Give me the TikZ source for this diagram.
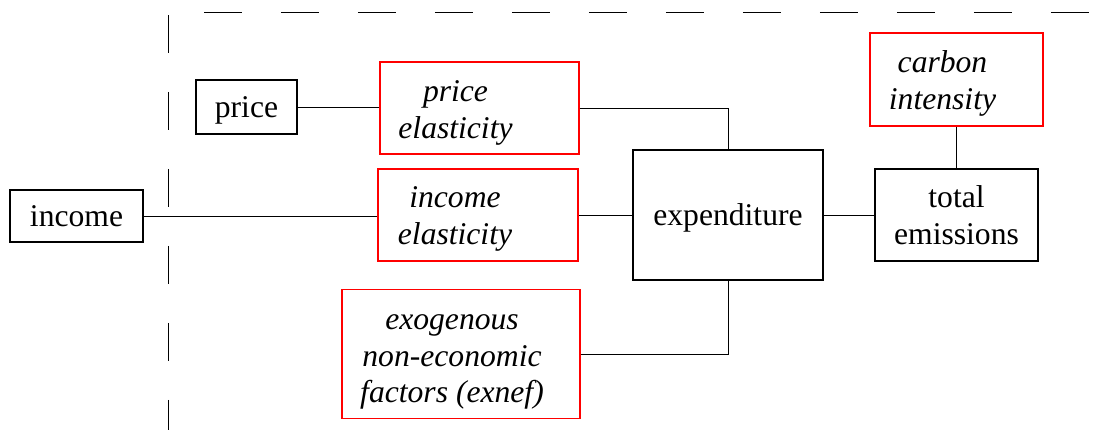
\documentclass[tikz,border=0pt]{standalone}
\usepackage{fontspec}
\setmainfont{Liberation Serif}
\begin{document}
\begin{tikzpicture}[x=0.02cm, y=-0.02cm, font=\fontsize{18}{20.8}\selectfont,
    plain/.style={draw=black, line width=0.6pt, align=center, inner sep=0pt, text depth=0pt},
    factor/.style={draw=red, line width=0.6pt, inner sep=0pt},
    wire/.style={draw=black, line width=0.5pt},
    boundary/.style={draw=black, line width=0.5pt, dash pattern=on 0.76cm off 0.78cm}]
    \useasboundingbox (0,0) rectangle (1096,430);
      % dashed boundary
      \draw[boundary] (168,15) -- (168,430);
      \draw[boundary] (204,12) -- (1096,12);
      % plain boxes
      \node[plain, minimum width=2.66cm, minimum height=1.04cm] (income) at (76.5,216) {income};
      \node[plain, minimum width=2.02cm, minimum height=1.08cm] (price) at (246.5,107) {price};
      \node[plain, minimum width=3.8cm, minimum height=2.6cm] (exp) at (728,215) {expenditure};
      \node[plain, minimum width=3.26cm, minimum height=1.84cm] (te) at (956.5,215) {total\\emissions};
      % factor boxes
      \foreach \nm/\px/\py/\w/\h/\dx/\dy/\txt in {pe/479.5/108/3.98/1.84/-24/5/{price\\elasticity},
        ie/478/215/4.0/1.84/-23/4/{income\\elasticity},
        ex/461/354/4.76/2.58/-9/8/{exogenous\\non-economic\\factors (exnef)},
        ci/956.5/79.5/3.46/1.86/-14/4/{carbon\\intensity}} {
        \node[factor, minimum width=\w cm, minimum height=\h cm] (\nm) at (\px,\py) {};
        \node[align=center, font=\fontsize{18}{20.8}\selectfont\itshape] (\nm-text) at (\px+\dx,\py+\dy) {\txt};
      }
      % connectors
      \draw[wire] (price.east) -- (price.east -| pe.west);
      \draw[wire] (pe.east) -| (exp.north);
      \draw[wire] (income.east) -- (income.east -| ie.west);
      \draw[wire] (ie.east) -- (ie.east -| exp.west);
      \draw[wire] (ex.east) -| (exp.south);
      \draw[wire] (exp.east) -- (exp.east -| te.west);
      \draw[wire] (ci.south) -- (ci.south |- te.north);
    \end{tikzpicture}
\end{document}
